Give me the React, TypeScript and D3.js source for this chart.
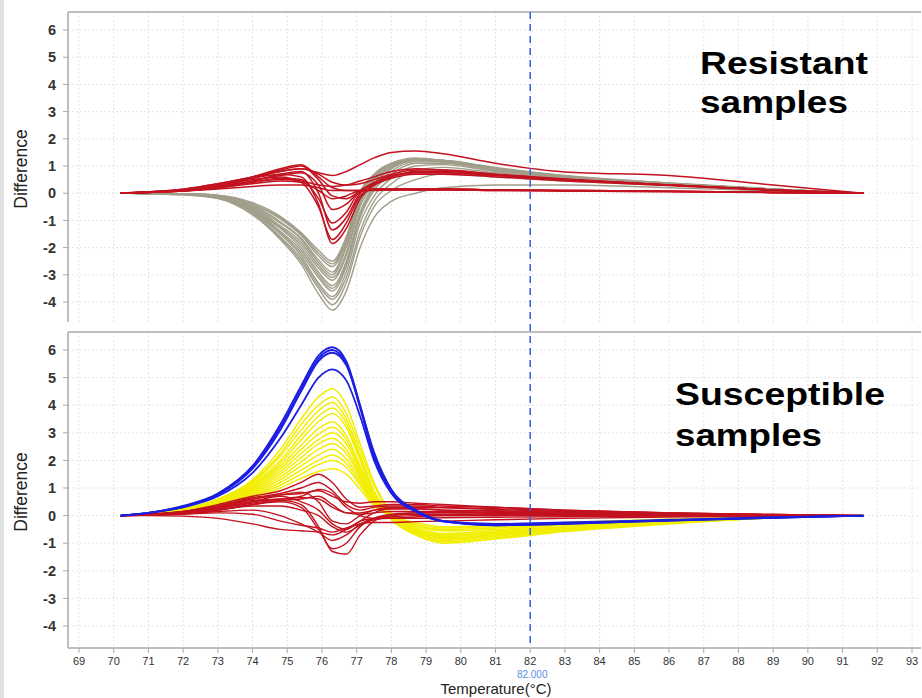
import React from 'react';
import * as d3 from 'd3';

// ---------- data ----------
const temps = [70.2, 71, 72, 73, 74, 74.8, 75.4, 75.9, 76.3, 76.7, 77.1, 77.5, 78, 78.7, 79.5, 81, 83, 86, 89, 91.6];

const xTicks = [69, 70, 71, 72, 73, 74, 75, 76, 77, 78, 79, 80, 81, 82, 83, 84, 85, 86, 87, 88, 89, 90, 91, 92, 93];
const yTicks = [6, 5, 4, 3, 2, 1, 0, -1, -2, -3, -4];
const cursorTemp = 82;
const cursorLabel = '82.000';
const xTitle = 'Temperature(°C)';
const yTitle = 'Difference';
const topLabel = ['Resistant', 'samples'];
const bottomLabel = ['Susceptible', 'samples'];

const resistantGray = [
  [0, -0.02, -0.06, -0.2, -0.8, -1.7, -2.6, -3.7, -4.3, -3.6, -2.0, -0.9, -0.3, 0.0, 0.2, 0.3, 0.3, 0.2, 0.08, 0],
  [0, -0.02, -0.05, -0.18, -0.75, -1.65, -2.5, -3.5, -4.1, -3.3, -1.6, -0.5, 0.1, 0.5, 0.7, 0.6, 0.45, 0.28, 0.12, 0],
  [0, -0.02, -0.05, -0.17, -0.7, -1.6, -2.4, -3.4, -3.9, -3.1, -1.4, -0.3, 0.35, 0.85, 0.95, 0.75, 0.55, 0.3, 0.12, 0],
  [0, -0.01, -0.04, -0.15, -0.7, -1.5, -2.3, -3.3, -3.8, -2.9, -1.1, -0.1, 0.55, 1.0, 1.05, 0.8, 0.55, 0.32, 0.13, 0],
  [0, -0.01, -0.04, -0.14, -0.65, -1.45, -2.2, -3.1, -3.6, -2.7, -0.9, 0.1, 0.7, 1.1, 1.1, 0.85, 0.6, 0.35, 0.14, 0],
  [0, -0.01, -0.04, -0.13, -0.6, -1.4, -2.1, -3.0, -3.5, -2.6, -0.8, 0.2, 0.8, 1.15, 1.15, 0.9, 0.62, 0.36, 0.15, 0],
  [0, -0.01, -0.03, -0.12, -0.6, -1.3, -2.0, -2.9, -3.4, -2.5, -0.7, 0.3, 0.9, 1.2, 1.2, 0.92, 0.63, 0.37, 0.15, 0],
  [0, -0.01, -0.03, -0.12, -0.55, -1.25, -1.9, -2.75, -3.2, -2.3, -0.5, 0.35, 0.9, 1.2, 1.15, 0.88, 0.6, 0.35, 0.15, 0],
  [0, -0.01, -0.03, -0.1, -0.5, -1.2, -1.8, -2.65, -3.1, -2.2, -0.4, 0.45, 0.95, 1.25, 1.2, 0.95, 0.65, 0.38, 0.16, 0],
  [0, -0.01, -0.03, -0.1, -0.5, -1.1, -1.7, -2.55, -3.0, -2.0, -0.3, 0.5, 1.0, 1.25, 1.2, 0.9, 0.6, 0.35, 0.15, 0],
  [0, -0.01, -0.02, -0.09, -0.45, -1.05, -1.65, -2.45, -2.9, -1.9, -0.2, 0.55, 1.0, 1.2, 1.15, 0.85, 0.58, 0.33, 0.14, 0],
  [0, -0.01, -0.02, -0.08, -0.4, -0.95, -1.55, -2.3, -2.7, -1.8, -0.1, 0.6, 1.05, 1.25, 1.2, 0.88, 0.6, 0.35, 0.15, 0],
  [0, -0.01, -0.02, -0.08, -0.4, -0.9, -1.5, -2.2, -2.6, -1.7, 0.0, 0.65, 1.1, 1.3, 1.2, 0.9, 0.62, 0.36, 0.15, 0],
  [0, -0.01, -0.02, -0.07, -0.35, -0.85, -1.45, -2.1, -2.5, -1.6, 0.05, 0.7, 1.1, 1.25, 1.15, 0.85, 0.58, 0.34, 0.14, 0],
];

const resistantRed = [
  [0, 0.05, 0.15, 0.35, 0.6, 0.8, 0.9, 0.75, 0.65, 0.8, 1.05, 1.3, 1.5, 1.55, 1.45, 1.1, 0.78, 0.65, 0.3, 0],
  [0, 0.05, 0.15, 0.35, 0.6, 0.85, 1.0, 0.5, -0.1, -0.2, 0.1, 0.4, 0.65, 0.75, 0.75, 0.65, 0.5, 0.3, 0.12, 0],
  [0, 0.04, 0.12, 0.3, 0.55, 0.7, 0.6, -0.4, -1.85, -1.3, -0.2, 0.3, 0.6, 0.75, 0.75, 0.65, 0.5, 0.3, 0.12, 0],
  [0, 0.04, 0.1, 0.25, 0.5, 0.6, 0.4, -0.5, -1.7, -1.1, -0.1, 0.15, 0.15, 0.15, 0.15, 0.12, 0.1, 0.07, 0.03, 0],
  [0, 0.03, 0.1, 0.25, 0.45, 0.7, 0.8, 0.0, -1.35, -0.9, 0.0, 0.3, 0.55, 0.7, 0.7, 0.6, 0.45, 0.28, 0.1, 0],
  [0, 0.03, 0.08, 0.2, 0.4, 0.55, 0.5, -0.2, -1.1, -0.7, 0.05, 0.15, 0.15, 0.15, 0.15, 0.12, 0.1, 0.07, 0.03, 0],
  [0, 0.03, 0.08, 0.2, 0.45, 0.65, 0.75, 0.3, -0.6, -0.4, 0.1, 0.35, 0.6, 0.8, 0.8, 0.68, 0.5, 0.3, 0.12, 0],
  [0, 0.03, 0.08, 0.15, 0.25, 0.3, 0.3, 0.2, 0.1, 0.1, 0.1, 0.1, 0.12, 0.12, 0.12, 0.1, 0.08, 0.06, 0.03, 0],
  [0, 0.05, 0.12, 0.3, 0.6, 0.9, 1.05, 0.6, 0.2, 0.1, 0.1, 0.12, 0.15, 0.15, 0.15, 0.12, 0.1, 0.07, 0.03, 0],
  [0, 0.04, 0.1, 0.2, 0.4, 0.5, 0.45, 0.3, 0.25, 0.3, 0.45, 0.6, 0.8, 0.9, 0.85, 0.7, 0.5, 0.3, 0.12, 0],
  [0, 0.03, 0.08, 0.2, 0.35, 0.45, 0.4, 0.1, -0.2, -0.1, 0.1, 0.12, 0.12, 0.12, 0.12, 0.1, 0.08, 0.05, 0.02, 0],
  [0, 0.04, 0.1, 0.25, 0.55, 0.8, 0.9, 0.7, 0.4, 0.3, 0.35, 0.5, 0.7, 0.85, 0.85, 0.7, 0.52, 0.3, 0.12, 0],
];

const susceptibleYellow = [
  [0, 0.08, 0.25, 0.6, 1.3, 2.4, 3.5, 4.3, 4.6, 4.0, 2.6, 1.2, 0.1, -0.5, -0.7, -0.6, -0.42, -0.22, -0.06, 0],
  [0, 0.08, 0.24, 0.58, 1.25, 2.25, 3.3, 4.0, 4.3, 3.7, 2.4, 1.1, 0.05, -0.55, -0.75, -0.65, -0.45, -0.23, -0.06, 0],
  [0, 0.08, 0.23, 0.55, 1.2, 2.15, 3.1, 3.8, 4.1, 3.5, 2.2, 0.9, -0.05, -0.6, -0.85, -0.7, -0.5, -0.25, -0.07, 0],
  [0, 0.07, 0.22, 0.52, 1.15, 2.0, 2.9, 3.6, 3.9, 3.35, 2.1, 0.85, -0.1, -0.65, -0.9, -0.75, -0.5, -0.25, -0.07, 0],
  [0, 0.07, 0.21, 0.5, 1.1, 1.9, 2.75, 3.4, 3.7, 3.2, 2.0, 0.8, -0.1, -0.7, -0.95, -0.8, -0.55, -0.28, -0.08, 0],
  [0, 0.07, 0.2, 0.48, 1.05, 1.8, 2.55, 3.15, 3.4, 2.9, 1.8, 0.7, -0.15, -0.7, -1.0, -0.85, -0.58, -0.3, -0.08, 0],
  [0, 0.06, 0.19, 0.45, 1.0, 1.7, 2.4, 2.95, 3.2, 2.75, 1.7, 0.65, -0.1, -0.6, -0.85, -0.72, -0.5, -0.26, -0.07, 0],
  [0, 0.06, 0.18, 0.43, 0.95, 1.6, 2.25, 2.75, 3.0, 2.6, 1.6, 0.6, -0.1, -0.55, -0.8, -0.7, -0.48, -0.25, -0.07, 0],
  [0, 0.06, 0.17, 0.4, 0.9, 1.5, 2.1, 2.6, 2.8, 2.4, 1.5, 0.55, -0.05, -0.5, -0.7, -0.6, -0.42, -0.22, -0.06, 0],
  [0, 0.05, 0.16, 0.38, 0.85, 1.4, 1.95, 2.4, 2.6, 2.25, 1.4, 0.5, -0.05, -0.45, -0.65, -0.55, -0.4, -0.2, -0.05, 0],
  [0, 0.05, 0.15, 0.36, 0.8, 1.3, 1.8, 2.2, 2.4, 2.05, 1.3, 0.5, 0.0, -0.4, -0.55, -0.5, -0.35, -0.18, -0.05, 0],
  [0, 0.05, 0.14, 0.34, 0.75, 1.2, 1.65, 2.0, 2.2, 1.9, 1.2, 0.45, 0.0, -0.35, -0.5, -0.45, -0.32, -0.16, -0.04, 0],
  [0, 0.05, 0.13, 0.32, 0.7, 1.1, 1.5, 1.85, 2.0, 1.75, 1.1, 0.4, 0.0, -0.3, -0.45, -0.4, -0.3, -0.15, -0.04, 0],
  [0, 0.04, 0.12, 0.3, 0.65, 1.0, 1.35, 1.6, 1.7, 1.5, 0.95, 0.35, 0.0, -0.25, -0.4, -0.35, -0.25, -0.12, -0.03, 0],
];

const susceptibleRed = [
  [0, 0.05, 0.15, 0.4, 0.7, 0.9, 1.2, 1.5, 1.2, 0.6, 0.3, 0.35, 0.4, 0.4, 0.35, 0.3, 0.2, 0.1, 0.04, 0],
  [0, 0.05, 0.15, 0.35, 0.65, 0.8, 1.0, 1.2, 0.9, 0.4, 0.2, 0.3, 0.35, 0.35, 0.3, 0.25, 0.18, 0.1, 0.04, 0],
  [0, 0.04, 0.12, 0.3, 0.6, 0.75, 0.85, 0.5, -0.2, -0.3, 0.0, 0.2, 0.3, 0.3, 0.28, 0.22, 0.15, 0.08, 0.03, 0],
  [0, 0.03, 0.1, 0.25, 0.45, 0.55, 0.4, -0.4, -1.3, -1.4, -0.7, -0.2, 0.0, 0.1, 0.1, 0.08, 0.06, 0.04, 0.02, 0],
  [0, 0.03, 0.08, 0.2, 0.4, 0.5, 0.3, -0.5, -1.2, -1.0, -0.4, -0.1, 0.05, 0.1, 0.12, 0.1, 0.08, 0.05, 0.02, 0],
  [0, 0.02, 0.06, 0.15, 0.2, 0.0, -0.3, -0.6, -0.9, -0.7, -0.3, -0.1, 0.0, 0.05, 0.05, 0.05, 0.04, 0.03, 0.01, 0],
  [0, 0.0, -0.02, -0.1, -0.3, -0.5, -0.55, -0.6, -0.7, -0.5, -0.2, -0.1, -0.05, 0.0, 0.0, 0.0, 0.0, 0.0, 0.0, 0],
  [0, 0.02, 0.05, 0.1, 0.05, -0.2, -0.35, -0.45, -0.6, -0.45, -0.3, -0.25, -0.25, -0.22, -0.2, -0.15, -0.1, -0.05, -0.02, 0],
  [0, 0.05, 0.15, 0.35, 0.6, 0.75, 0.8, 0.9, 0.7, 0.5, 0.45, 0.5, 0.5, 0.45, 0.4, 0.3, 0.2, 0.1, 0.04, 0],
  [0, 0.04, 0.12, 0.3, 0.5, 0.6, 0.65, 0.6, 0.3, 0.1, 0.05, 0.1, 0.15, 0.15, 0.15, 0.12, 0.08, 0.05, 0.02, 0],
  [0, 0.03, 0.1, 0.25, 0.5, 0.7, 0.5, 0.2, -0.3, -0.5, -0.2, 0.1, 0.25, 0.25, 0.2, 0.15, 0.1, 0.06, 0.02, 0],
  [0, 0.04, 0.12, 0.3, 0.55, 0.6, 0.7, 0.95, 0.8, 0.3, 0.0, -0.1, -0.1, -0.05, 0.0, 0.0, 0.0, 0.0, 0.0, 0],
  [0, 0.02, 0.08, 0.2, 0.35, 0.35, 0.2, 0.0, -0.4, -0.6, -0.35, -0.15, -0.1, -0.1, -0.08, -0.06, -0.04, -0.02, 0, 0],
  [0, 0.03, 0.08, 0.2, 0.4, 0.55, 0.6, 0.7, 0.4, 0.1, 0.1, 0.2, 0.25, 0.25, 0.2, 0.18, 0.12, 0.08, 0.03, 0],
];

const susceptibleBlue = [
  [0, 0.1, 0.35, 0.8, 1.8, 3.3, 4.7, 5.8, 6.1, 5.6, 4.0, 2.2, 0.9, 0.2, -0.2, -0.35, -0.3, -0.18, -0.08, 0],
  [0, 0.1, 0.33, 0.78, 1.75, 3.2, 4.6, 5.7, 6.0, 5.5, 3.9, 2.1, 0.85, 0.15, -0.22, -0.35, -0.3, -0.18, -0.08, 0],
  [0, 0.1, 0.32, 0.75, 1.7, 3.1, 4.5, 5.6, 5.9, 5.45, 3.95, 2.3, 0.95, 0.2, -0.2, -0.33, -0.28, -0.17, -0.07, 0],
  [0, 0.1, 0.3, 0.7, 1.55, 2.8, 4.0, 5.0, 5.3, 4.9, 3.6, 2.0, 0.8, 0.15, -0.2, -0.3, -0.25, -0.15, -0.06, 0],
];

// ---------- layout ----------
const W = 922;
const H = 698;
const frameLeft = 68;
const frameRight = 921;
const x = d3.scaleLinear().domain([69, 93]).range([79, 912]);
const topPanel = { top: 12, bottom: 322, y: d3.scaleLinear().domain([6, -4]).range([30, 302]) };
const botPanel = { top: 332, bottom: 648, y: d3.scaleLinear().domain([6, -4]).range([350, 626]) };

const COLORS = {
  gray: '#a09e8a',
  red: '#c3121f',
  yellow: '#f2ee00',
  blue: '#1c1ee0',
  grid: '#e4e4e4',
  frame: '#a9a9a9',
  cursor: '#3b5fdc',
};

const FONT = '"Liberation Sans", Arial, sans-serif';

function Curves({ rows, yScale, color, width }: { rows: number[][]; yScale: d3.ScaleLinear<number, number>; color: string; width: number }) {
  const line = d3
    .line<number>()
    .x((_, i) => x(temps[i]))
    .y((d) => yScale(d))
    .curve(d3.curveMonotoneX);
  return (
    <g>
      {rows.map((r, i) => (
        <path key={i} d={line(r) || ''} fill="none" stroke={color} strokeWidth={width} strokeLinejoin="round" />
      ))}
    </g>
  );
}

function Panel({ p, showX }: { p: typeof topPanel; showX: boolean }) {
  return (
    <g>
      {xTicks.map((t) => (
        <line key={'gx' + t} x1={x(t)} x2={x(t)} y1={p.top} y2={p.bottom} stroke={COLORS.grid} strokeWidth={1} strokeDasharray="2,2" />
      ))}
      {yTicks.map((t) => (
        <line key={'gy' + t} x1={frameLeft} x2={frameRight} y1={p.y(t)} y2={p.y(t)} stroke={COLORS.grid} strokeWidth={1} strokeDasharray="2,2" />
      ))}
      <line x1={frameLeft} x2={frameRight} y1={p.top} y2={p.top} stroke={COLORS.frame} strokeWidth={1.5} />
      <line x1={frameLeft} x2={frameLeft} y1={p.top} y2={p.bottom} stroke={COLORS.frame} strokeWidth={1.5} />
      {showX && <line x1={frameLeft} x2={frameRight} y1={p.bottom} y2={p.bottom} stroke={COLORS.frame} strokeWidth={1.5} />}
      {yTicks.map((t) => (
        <g key={'yt' + t}>
          <line x1={frameLeft - 5} x2={frameLeft} y1={p.y(t)} y2={p.y(t)} stroke={COLORS.frame} strokeWidth={1} />
          <text x={56} y={p.y(t)} dy="0.36em" textAnchor="end" fontFamily={FONT} fontSize={14.5} fontWeight="bold" fill="#333">
            {t}
          </text>
        </g>
      ))}
      <text
        transform={`translate(27,${(p.top + p.bottom) / 2 + 2}) rotate(-90)`}
        textAnchor="middle"
        fontFamily={FONT}
        fontSize={17.5}
        fill="#222"
      >
        {yTitle}
      </text>
      {showX &&
        xTicks.map((t) => (
          <g key={'xt' + t}>
            <line x1={x(t)} x2={x(t)} y1={p.bottom} y2={p.bottom + 5} stroke={COLORS.frame} strokeWidth={1} />
            <text x={x(t)} y={p.bottom + 17} textAnchor="middle" fontFamily={FONT} fontSize={11} fill="#333">
              {t}
            </text>
          </g>
        ))}
    </g>
  );
}

export default function App() {
  return (
    <svg width={W} height={H} style={{ position: 'absolute', left: 0, top: 0, background: '#fff' }}>
      <rect x={0} y={0} width={W} height={H} fill="#fff" />
      <rect x={0} y={0} width={4} height={H} fill="#e2e2e2" />
      <Panel p={topPanel} showX={false} />
      <Panel p={botPanel} showX={true} />

      <Curves rows={resistantGray} yScale={topPanel.y} color={COLORS.gray} width={1.4} />
      <Curves rows={resistantRed} yScale={topPanel.y} color={COLORS.red} width={1.5} />

      <Curves rows={susceptibleYellow} yScale={botPanel.y} color={COLORS.yellow} width={1.5} />
      <Curves rows={susceptibleRed} yScale={botPanel.y} color={COLORS.red} width={1.4} />
      <Curves rows={susceptibleBlue} yScale={botPanel.y} color={COLORS.blue} width={1.8} />

      <line x1={x(cursorTemp)} x2={x(cursorTemp)} y1={topPanel.top} y2={botPanel.bottom} stroke={COLORS.cursor} strokeWidth={1.5} strokeDasharray="7,5" />
      <text x={x(cursorTemp) + 2} y={678} textAnchor="middle" fontFamily={FONT} fontSize={10} fill="#5b8ee6">
        {cursorLabel}
      </text>
      <text x={496} y={694} textAnchor="middle" fontFamily={FONT} fontSize={15} fill="#222">
        {xTitle}
      </text>

      <text x={700} y={74} fontFamily={FONT} fontSize={32} fontWeight="bold" fill="#000" textLength={168} lengthAdjust="spacingAndGlyphs">
        {topLabel[0]}
      </text>
      <text x={700} y={113} fontFamily={FONT} fontSize={32} fontWeight="bold" fill="#000" textLength={148} lengthAdjust="spacingAndGlyphs">
        {topLabel[1]}
      </text>
      <text x={675} y={405} fontFamily={FONT} fontSize={32} fontWeight="bold" fill="#000" textLength={210} lengthAdjust="spacingAndGlyphs">
        {bottomLabel[0]}
      </text>
      <text x={675} y={446} fontFamily={FONT} fontSize={32} fontWeight="bold" fill="#000" textLength={147} lengthAdjust="spacingAndGlyphs">
        {bottomLabel[1]}
      </text>
    </svg>
  );
}
